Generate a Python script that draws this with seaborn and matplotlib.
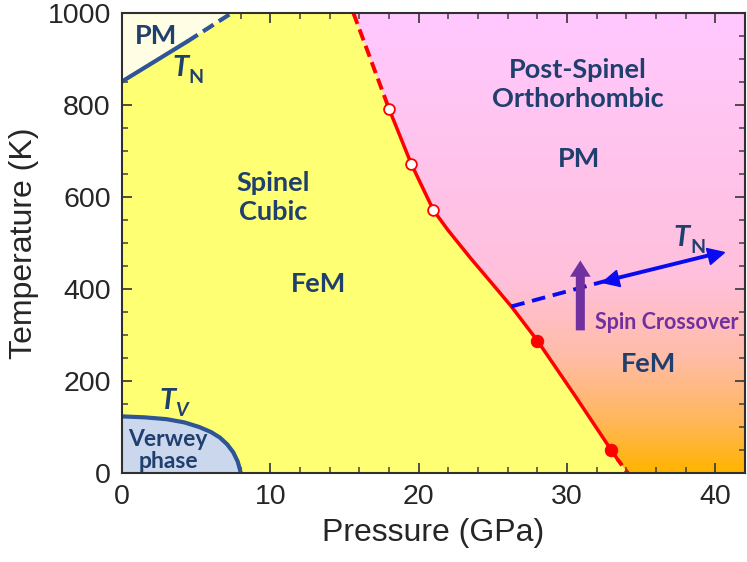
import numpy as np
import pandas as pd
import seaborn as sns
import matplotlib
matplotlib.use("Agg")
from matplotlib import pyplot as plt
from matplotlib.colors import LinearSegmentedColormap
from matplotlib.markers import MarkerStyle
from matplotlib.patches import Polygon
from matplotlib.transforms import Affine2D, offset_copy

# phase boundaries (pressure GPa, temperature K)
tn_low_p = [0.0, 4.4, 7.4]
tn_low_t = [851, 938, 1000]

red_p = [15.6, 18.0, 19.5, 21.0, 22.0, 23.5, 25.0, 26.25, 28.0, 30.5, 33.0, 33.4, 34.1]
red_t = [1000, 792, 672, 571, 527, 467, 410, 362, 288, 170, 49, 30, 0]

open_p = [18.0, 19.5, 21.0]
open_t = [792, 672, 571]
filled_p = [28.0, 33.0]
filled_t = [288, 49]

tn_high_p = [26.25, 32.9, 40.05]
tn_high_t = [362, 420, 477]

verwey_p = [0.0, 1.5, 3.0, 4.2, 5.2, 6.0, 6.6, 7.1, 7.5, 7.8, 7.95, 8.0]
verwey_t = [123, 121, 117, 110, 100, 89, 77, 62, 45, 25, 8, 0]

spin_p = 30.9
spin_t = [310, 462]

sns.set_theme(style="ticks")
plt.rcParams["font.family"] = ["Liberation Sans", "DejaVu Sans"]

fig = plt.figure(figsize=(7.47, 5.62), dpi=100)
ax = fig.add_axes([0.1633, 0.1584, 0.834, 0.8185])
ax.set_xlim(0, 42)
ax.set_ylim(0, 1000)
ax.set_facecolor("#FFFF73")

# right region gradient (pink -> orange)
cmap = LinearSegmentedColormap.from_list(
    "post", [(0.0, "#FFB400"), (0.12, "#FFB760"), (0.25, "#FFBCA6"),
             (0.42, "#FFC0DC"), (1.0, "#FFC8FF")])
grad = ax.imshow(np.linspace(0, 1, 256).reshape(-1, 1), cmap=cmap, origin="lower",
                 extent=[0, 42, 0, 1000], aspect="auto", zorder=0.5)
right_poly = Polygon(list(zip(red_p, red_t)) + [(42, 0), (42, 1000)],
                     closed=True, transform=ax.transData)
grad.set_clip_path(right_poly)

# PM corner top left
ax.fill(tn_low_p + [0.0], tn_low_t + [1000], color="#FFFDE3", zorder=0.6, lw=0)
# Verwey phase
ax.fill(verwey_p + [0.0], verwey_t + [0], color="#CBD7EC", zorder=0.6, lw=0)

navy = "#2F5597"
df = pd.DataFrame({"p": tn_low_p, "t": tn_low_t})
sns.lineplot(data=df.iloc[:2], x="p", y="t", sort=False, estimator=None, color=navy, lw=3, ax=ax)
sns.lineplot(data=df.iloc[1:], x="p", y="t", sort=False, estimator=None, color=navy, lw=3,
             linestyle=(0, (3, 1.5)), ax=ax)
sns.lineplot(x=verwey_p, y=verwey_t, sort=False, estimator=None, color=navy, lw=3, ax=ax)

red = pd.DataFrame({"p": red_p, "t": red_t})
sns.lineplot(data=red.iloc[:2], x="p", y="t", sort=False, estimator=None, color="#FF0000",
             lw=2.8, linestyle=(0, (3, 1.5)), ax=ax)
sns.lineplot(data=red.iloc[1:12], x="p", y="t", sort=False, estimator=None, color="#FF0000",
             lw=2.5, ax=ax)
sns.lineplot(data=red.iloc[11:], x="p", y="t", sort=False, estimator=None, color="#FF0000",
             lw=2.8, linestyle=(0, (2, 1.5)), ax=ax)
sns.scatterplot(x=open_p, y=open_t, s=60, facecolor="white", edgecolor="#FF0000",
                linewidth=1.3, zorder=5, ax=ax)
sns.scatterplot(x=filled_p, y=filled_t, s=80, color="#FF0000", edgecolor="#FF0000",
                zorder=5, ax=ax)

blue = "#0A0AF0"
sns.lineplot(x=tn_high_p[:2], y=tn_high_t[:2], sort=False, estimator=None, color=blue, lw=2.8,
             linestyle=(0, (3.5, 2)), ax=ax)
sns.lineplot(x=tn_high_p[1:], y=tn_high_t[1:], sort=False, estimator=None, color=blue, lw=2.8, ax=ax)
rot = Affine2D().rotate_deg(14)
ax.plot(tn_high_p[1], tn_high_t[1], marker=MarkerStyle("<", transform=rot), ms=12, color=blue,
        zorder=6)
ax.plot(tn_high_p[2], tn_high_t[2], marker=MarkerStyle(">", transform=rot), ms=12, color=blue,
        zorder=6)

purple = "#7030A0"
ax.annotate("", xy=(spin_p, spin_t[1]), xytext=(spin_p, spin_t[0]), zorder=7,
            arrowprops=dict(arrowstyle="simple,head_length=0.9,head_width=1.15,tail_width=0.5",
                            mutation_scale=13, color=purple, shrinkA=0, shrinkB=0, lw=0))

tc = "#1F3F6E"
lab = dict(family=["Lato", "DejaVu Sans"], weight="bold", color=tc, fontsize=19.5,
           ha="center", va="center", zorder=8)
ax.text(2.28, 949, "PM", **lab)
ax.text(10.2, 598, "Spinel\nCubic", linespacing=1.25, **lab)
ax.text(13.26, 411, "FeM", **lab)
ax.text(30.7, 844, "Post-Spinel\nOrthorhombic", linespacing=1.25, **lab)
ax.text(30.8, 683, "PM", **lab)
ax.text(35.5, 237, "FeM", **lab)
ax.text(3.1, 48, "Verwey\nphase", linespacing=1.05, **dict(lab, fontsize=16.5))
ax.text(36.75, 328, "Spin Crossover", **dict(lab, color=purple, fontsize=15.5))


def sym(x, y, main, sub, color, sub_italic):
    ax.text(x, y, main, family=["Lato", "DejaVu Sans"], weight="bold", style="italic",
            color=color, fontsize=21, ha="right", va="baseline", zorder=8)
    tr = offset_copy(ax.transData, fig=fig, x=0, y=-5, units="points")
    ax.text(x, y, sub, family=["Lato", "DejaVu Sans"], weight="bold",
            style="italic" if sub_italic else "normal", color=color, fontsize=14,
            ha="left", va="baseline", transform=tr, zorder=8)


sym(4.5, 862, "T", "N", tc, False)
sym(38.3, 494, "T", "N", tc, False)
sym(3.6, 140, "T", "V", tc, True)

ax.set_xticks([0, 10, 20, 30, 40])
ax.set_xticks(np.arange(0, 43, 2), minor=True)
ax.set_yticks([0, 200, 400, 600, 800, 1000])
ax.set_yticks(np.arange(0, 1001, 50), minor=True)
ax.tick_params(which="both", direction="in", top=True, right=True, color="#404040",
               labelsize=20.5, pad=8)
ax.tick_params(which="major", length=7, width=1.3)
ax.tick_params(which="minor", length=4, width=1.1)
for s in ax.spines.values():
    s.set_color("#303030")
    s.set_linewidth(1.5)
    s.set_zorder(10)

ax.set_xlabel("Pressure (GPa)", fontsize=23, labelpad=6)
ax.set_ylabel("Temperature (K)", fontsize=23, labelpad=6)

fig.savefig("out.png", dpi=100)
